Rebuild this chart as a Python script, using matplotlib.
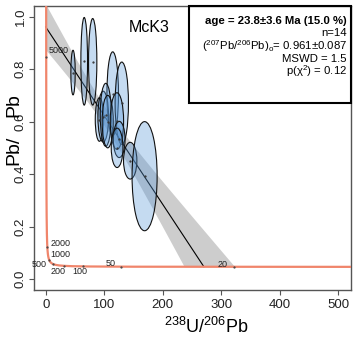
import numpy as np
import matplotlib
matplotlib.use("Agg")
import matplotlib.pyplot as plt
from matplotlib.patches import Ellipse, Rectangle

plt.rcParams['font.family'] = ['Liberation Sans', 'DejaVu Sans']
plt.rcParams['mathtext.fontset'] = 'custom'
plt.rcParams['mathtext.rm'] = 'Liberation Sans'
plt.rcParams['mathtext.it'] = 'Liberation Sans:italic'
plt.rcParams['mathtext.bf'] = 'Liberation Sans:bold'

# ---- data ----
ell_x = [46.7, 65.8, 80.3, 114.5, 130.0, 91.8, 98.3, 102.6, 106.0, 121.7, 125.6, 122.0, 144.4, 169.0]
ell_y = [0.787, 0.830, 0.828, 0.706, 0.670, 0.608, 0.619, 0.626, 0.600, 0.602, 0.532, 0.500, 0.451, 0.392]
ell_sx = [3.7, 5.7, 7.1, 9.9, 11.4, 7.1, 9.1, 9.4, 9.5, 11.4, 10.0, 10.0, 11.4, 21.4]
ell_sy = [0.085, 0.167, 0.165, 0.160, 0.157, 0.083, 0.097, 0.120, 0.100, 0.108, 0.069, 0.075, 0.070, 0.208]

conc_ages = [20, 50, 100, 200, 500, 1000, 2000, 5000]
conc_labels = ['20', '50', '100', '200', '500', '1000', '2000', '5000']

age, age_err = 23.8, 3.6          # Ma
a0, a0_err = 0.961, 0.087         # 207Pb/206Pb intercept
rho = 0.75                        # estimated correlation a0-age
sample = 'McK3'
x_ticks = [0, 100, 200, 300, 400, 500]
y_ticks = [0.0, 0.2, 0.4, 0.6, 0.8, 1.0]
info_lines = ['age = 23.8±3.6 Ma (15.0 %)',
              'n=14',
              r'($^{207}$Pb/$^{206}$Pb)$_{\mathrm{o}}$= 0.961±0.087',
              'MSWD = 1.5',
              r'p(χ$^{2}$) = 0.12']

# ---- constants ----
L8 = 1.55125e-4   # per Ma
L5 = 9.8485e-4
U85 = 137.818


def conc(t):
    t = np.asarray(t, float)
    e8 = np.exp(L8 * t) - 1
    return 1.0 / e8, (np.exp(L5 * t) - 1) / e8 / U85


def conc_y_at_x(x):
    t = np.log(1 + 1.0 / x) / L8
    return conc(t)[1]


W, H = 355, 349
fig = plt.figure(figsize=(W / 100, H / 100), dpi=100)
ax = fig.add_axes([34 / W, 1 - 289.5 / H, (351 - 34) / W, (289.5 - 6.2) / H])
ax.set_xlim(-20, 521.7)
ax.set_ylim(-0.04, 1.04)

# ---- regression line and confidence band ----
xt, yt = conc(age)
xs = np.linspace(0, 340, 700)
yline = a0 + (yt - a0) * xs / xt
d_a = 1 - xs / xt
d_t = xs * (L5 * np.exp(L5 * age) / U85 - a0 * L8 * np.exp(L8 * age))
w = np.sqrt(np.clip((d_a * a0_err) ** 2 + (d_t * age_err) ** 2
                    + 2 * rho * d_a * d_t * a0_err * age_err, 0, None))
yc = conc_y_at_x(np.maximum(xs, 1e-3))
lo = np.maximum(yline - w, yc)
hi = yline + w
ax.fill_between(xs, lo, hi, where=hi > yc, color='#cdcdcd', lw=0, zorder=1)
xl = np.linspace(0, xt, 50)
ax.plot(xl, a0 + (yt - a0) * xl / xt, color='black', lw=0.8, zorder=2)

# ---- concordia ----
tt = np.geomspace(11, 6500, 1500)
cx, cy = conc(tt)
ax.plot(cx, cy, color='#f0856b', lw=1.6, zorder=3)
tx, ty = conc(conc_ages)
ax.plot(tx, ty, 'o', color='#444444', ms=0.6, zorder=4)
offs = {'20': (-11, 2.7, 'center'), '50': (-10, 3, 'center'),
        '100': (-3.5, -4.7, 'center'), '200': (-6.5, -5.3, 'center'),
        '500': (-6, -1, 'right'), '1000': (1, 5, 'left'),
        '2000': (3, 3.4, 'left'), '5000': (2, 7, 'left')}
for lab, x, y in zip(conc_labels, tx, ty):
    dx, dy, ha = offs[lab]
    ax.annotate(lab, (x, y), xytext=(dx, dy), textcoords='offset pixels',
                ha=ha, va='center', fontsize=6.5, color='#222222',
                annotation_clip=False, zorder=5)

# ---- error ellipses ----
for x, y, sx, sy in zip(ell_x, ell_y, ell_sx, ell_sy):
    ax.add_patch(Ellipse((x, y), 2 * sx, 2 * sy, facecolor=(0.35, 0.6, 0.85, 0.35),
                         edgecolor='#111111', lw=0.8, zorder=6))
ax.plot(ell_x, ell_y, 'o', color='#333333', ms=0.6, zorder=7)

ax.text(177, 0.958, sample, fontsize=11.5, ha='center', va='center', zorder=8)

# ---- axes styling ----
for s in ax.spines.values():
    s.set_color('#555555')
    s.set_linewidth(1.0)
ax.set_xticks(x_ticks)
ax.set_yticks(y_ticks)
ax.set_xticklabels([str(v) for v in x_ticks])
ax.set_yticklabels(['%.1f' % v for v in y_ticks], rotation=90, va='center')
ax.tick_params(direction='out', length=3.6, width=0.8, color='#555555',
               labelsize=9.5, labelcolor='#222222')
ax.tick_params(axis='x', pad=3.5)
ax.tick_params(axis='y', pad=1.8)

fig.text(206 / W, 1 - 327 / H, r'$^{238}$U/$^{206}$Pb', fontsize=13,
         ha='center', va='center')
# y label: main glyphs near the left edge, raised isotope numbers fall off the canvas
ylab_parts = [('207', -1.0, 184, 9.5), ('Pb/', 18.5, 165, 14),
              ('206', -1.0, 134, 9.5), ('Pb', 18.5, 117, 14)]
for txt, px, py, fs in ylab_parts:
    fig.text(px / W, 1 - py / H, txt, fontsize=fs, rotation=90,
             rotation_mode='anchor', ha='left', va='baseline')

# ---- info box ----
fig.patches.append(Rectangle((189 / W, 1 - 103 / H), (351 - 189) / W, (103 - 6.2) / H,
                             transform=fig.transFigure, fill=False,
                             edgecolor='black', lw=1.5, zorder=10))
rx = 347 / W
line_y = [21, 33.5, 46, 58.5, 71]
for i, (txt, py) in enumerate(zip(info_lines, line_y)):
    fig.text(rx, 1 - py / H, txt, fontsize=8.2,
             fontweight='bold' if i == 0 else 'normal', ha='right', va='center')

fig.savefig('out.png', dpi=100)
